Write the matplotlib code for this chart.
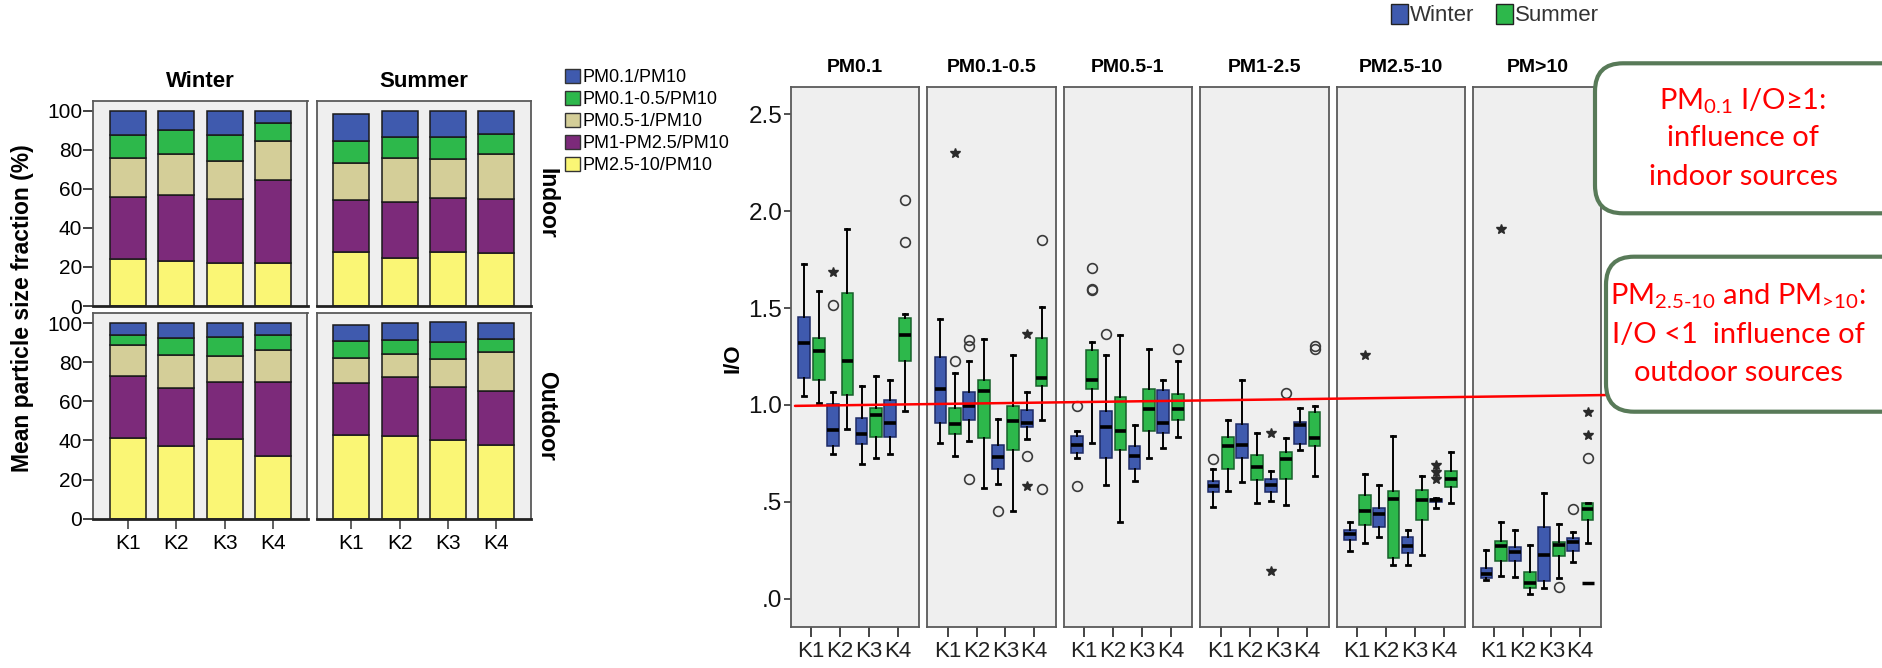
import numpy as np
import matplotlib
matplotlib.use("Agg")
import matplotlib.pyplot as plt
from matplotlib import font_manager
from matplotlib.patches import Patch, FancyBboxPatch, ConnectionPatch
from matplotlib.transforms import IdentityTransform

W, H = 1883, 668

_names = {f.name for f in font_manager.fontManager.ttflist}
ARIAL = "Liberation Sans"
NARROW = "Liberation Sans Narrow" if "Liberation Sans Narrow" in _names else "Liberation Sans"
CAL = "Lato" if "Lato" in _names else "DejaVu Sans"

plt.rcParams["font.family"] = [ARIAL, "DejaVu Sans"]
plt.rcParams["mathtext.fontset"] = "custom"
plt.rcParams["mathtext.rm"] = CAL
plt.rcParams["mathtext.it"] = CAL
plt.rcParams["mathtext.bf"] = CAL

# ---------------------------------------------------------------- data
seasons = ["Winter", "Summer"]
locations = ["Indoor", "Outdoor"]
sites = ["K1", "K2", "K3", "K4"]
fraction_labels = ["PM0.1/PM10", "PM0.1-0.5/PM10", "PM0.5-1/PM10",
                   "PM1-PM2.5/PM10", "PM2.5-10/PM10"]

# mean fraction (%) : [location][season][site]
frac_pm25_10 = [[[23.9, 23.0, 22.2, 22.2], [27.8, 24.4, 27.5, 27.3]],
                [[41.5, 37.3, 41.0, 32.3], [42.9, 42.4, 40.3, 37.9]]]
frac_pm1_25 = [[[31.9, 33.8, 32.7, 42.5], [26.3, 29.0, 27.8, 27.5]],
               [[31.3, 29.5, 28.9, 37.8], [26.7, 29.9, 27.2, 27.2]]]
frac_pm05_1 = [[[19.8, 21.0, 19.5, 19.9], [19.1, 22.2, 20.1, 23.0]],
               [[15.9, 16.8, 13.2, 16.2], [12.5, 11.8, 14.0, 20.0]]]
frac_pm01_05 = [[[11.8, 12.5, 13.1, 9.1], [11.4, 10.7, 11.3, 10.3]],
                [[5.5, 8.7, 9.7, 7.9], [8.8, 7.5, 8.9, 7.0]]]
frac_pm01 = [[[12.6, 9.7, 12.5, 6.3], [13.5, 13.7, 13.3, 11.9]],
             [[5.8, 7.7, 7.2, 5.8], [8.2, 8.4, 10.3, 7.9]]]

# I/O box plot statistics : [size class][site]
size_classes = ["PM0.1", "PM0.1-0.5", "PM0.5-1", "PM1-2.5", "PM2.5-10", "PM>10"]
io_ticks = [0.0, 0.5, 1.0, 1.5, 2.0, 2.5]
io_tick_labels = [".0", ".5", "1.0", "1.5", "2.0", "2.5"]

winter_whislo = [[1.047, 0.747, 0.694, 0.747], [0.806, 0.816, 0.594, 0.824],
                 [0.727, 0.586, 0.608, 0.778], [0.473, 0.604, 0.506, 0.765],
                 [0.245, 0.316, 0.173, 0.469], [0.098, 0.112, 0.053, 0.190]]
winter_q1 = [[1.137, 0.788, 0.796, 0.835], [0.908, 0.924, 0.669, 0.884],
             [0.753, 0.724, 0.671, 0.857], [0.551, 0.727, 0.549, 0.798],
             [0.302, 0.371, 0.237, 0.500], [0.108, 0.196, 0.092, 0.247]]
winter_med = [[1.318, 0.871, 0.849, 0.908], [1.080, 0.994, 0.729, 0.908],
              [0.794, 0.884, 0.737, 0.908], [0.580, 0.792, 0.588, 0.898],
              [0.333, 0.435, 0.271, 0.508], [0.129, 0.239, 0.224, 0.292]]
winter_q3 = [[1.453, 1.006, 0.931, 1.027], [1.247, 1.067, 0.794, 0.973],
             [0.841, 0.971, 0.786, 1.076], [0.606, 0.904, 0.616, 0.914],
             [0.353, 0.469, 0.318, 0.516], [0.159, 0.267, 0.369, 0.312]]
winter_whishi = [[1.729, 1.067, 1.096, 1.129], [1.445, 1.229, 0.929, 1.067],
                 [0.867, 1.257, 0.898, 1.129], [0.667, 1.129, 0.659, 0.986],
                 [0.394, 0.588, 0.353, 0.520], [0.251, 0.353, 0.547, 0.343]]

summer_whislo = [[1.008, 0.876, 0.727, 0.969], [0.737, 0.573, 0.455, 0.924],
                 [0.806, 0.394, 0.727, 0.837], [0.555, 0.496, 0.486, 0.633],
                 [0.286, 0.173, 0.224, 0.496], [0.118, 0.022, 0.108, 0.286]]
summer_q1 = [[1.131, 1.053, 0.835, 1.227], [0.851, 0.829, 0.765, 1.096],
             [1.082, 0.769, 0.865, 0.924], [0.667, 0.610, 0.616, 0.786],
             [0.380, 0.210, 0.404, 0.578], [0.194, 0.053, 0.218, 0.404]]
summer_med = [[1.280, 1.229, 0.949, 1.361], [0.900, 1.071, 0.916, 1.139],
              [1.129, 0.867, 0.978, 0.978], [0.788, 0.680, 0.720, 0.827],
              [0.455, 0.516, 0.510, 0.618], [0.271, 0.082, 0.276, 0.465]]
summer_q3 = [[1.347, 1.578, 0.986, 1.447], [0.986, 1.129, 0.992, 1.347],
             [1.282, 1.039, 1.084, 1.057], [0.837, 0.741, 0.755, 0.963],
             [0.533, 0.557, 0.563, 0.659], [0.296, 0.137, 0.292, 0.496]]
summer_whishi = [[1.590, 1.908, 1.149, 1.469], [1.165, 1.339, 1.259, 1.506],
                 [1.327, 1.359, 1.288, 1.227], [0.924, 0.855, 0.827, 0.996],
                 [0.645, 0.839, 0.635, 0.757], [0.394, 0.276, 0.384, 0.496]]

# outliers: (size class index, site index, season index, I/O value, kind)
outliers = [
    (0, 1, 0, 1.688, "*"), (0, 1, 0, 1.518, "o"), (0, 3, 1, 2.059, "o"), (0, 3, 1, 1.839, "o"),
    (1, 0, 1, 2.298, "*"), (1, 0, 1, 1.227, "o"), (1, 1, 0, 1.337, "o"), (1, 1, 0, 1.302, "o"),
    (1, 1, 0, 0.616, "o"), (1, 2, 0, 0.455, "o"), (1, 3, 0, 1.365, "*"), (1, 3, 0, 0.737, "o"),
    (1, 3, 0, 0.584, "*"), (1, 3, 1, 1.849, "o"), (1, 3, 1, 0.565, "o"),
    (2, 0, 0, 0.994, "o"), (2, 0, 0, 0.584, "o"), (2, 0, 1, 1.708, "o"), (2, 0, 1, 1.594, "o"),
    (2, 0, 1, 1.600, "o"), (2, 1, 0, 1.367, "o"), (2, 3, 1, 1.288, "o"),
    (3, 0, 0, 0.720, "o"), (3, 2, 0, 0.855, "*"), (3, 2, 0, 0.143, "*"), (3, 2, 1, 1.061, "o"),
    (3, 3, 1, 1.302, "o"), (3, 3, 1, 1.290, "o"),
    (4, 0, 1, 1.257, "*"), (4, 3, 0, 0.690, "*"), (4, 3, 0, 0.655, "*"), (4, 3, 0, 0.618, "*"),
    (5, 0, 1, 1.908, "*"), (5, 2, 1, 0.063, "o"), (5, 3, 0, 0.465, "o"), (5, 3, 1, 0.965, "*"),
    (5, 3, 1, 0.847, "*"), (5, 3, 1, 0.727, "o"), (5, 3, 1, 0.082, "_"),
]

# reference line I/O values (left end, right end)
ref_io_start = 0.995
ref_io_end = 1.051

# ---------------------------------------------------------------- style
BLUE = "#3F5AAE"
GREEN = "#2DB84B"
TAN = "#D4CE98"
PURPLE = "#7C2A7A"
YELLOW = "#FAF675"
PANEL_BG = "#EFEFEF"
SPINE = "#5A5A5A"
BLUE_EDGE = "#1E2B66"
GREEN_EDGE = "#17602A"

fig = plt.figure(figsize=(W / 100, H / 100), dpi=100)


def px_rect(x0, y0, x1, y1):
    return [x0 / W, 1 - y1 / H, (x1 - x0) / W, (y1 - y0) / H]


# ---------------------------------------------------------------- left: stacked bars
LEFT_X0 = [93.3, 316.7]
LEFT_W = 214.2
ROW_Y0 = [100.7, 313.3]
ROW_H = 205.3
bar_x = np.arange(len(sites))
stack = [frac_pm25_10, frac_pm1_25, frac_pm05_1, frac_pm01_05, frac_pm01]
stack_colors = [YELLOW, PURPLE, TAN, GREEN, BLUE]

for li, loc in enumerate(locations):
    for si, season in enumerate(seasons):
        ax = fig.add_axes(px_rect(LEFT_X0[si], ROW_Y0[li], LEFT_X0[si] + LEFT_W, ROW_Y0[li] + ROW_H))
        ax.set_facecolor(PANEL_BG)
        bottom = np.zeros(len(sites))
        for arr, col in zip(stack, stack_colors):
            vals = np.array(arr[li][si])
            ax.bar(bar_x, vals, bottom=bottom, width=0.747, color=col,
                   edgecolor="#1a1a1a", linewidth=1.1, zorder=2)
            bottom += vals
        ax.set_xlim(-0.72, 3.718)
        ax.set_ylim(0, 105.1)
        for sp in ax.spines.values():
            sp.set_color(SPINE)
            sp.set_linewidth(1.3)
        ax.spines["bottom"].set_color("#222222")
        ax.spines["bottom"].set_linewidth(2.0)
        if si == 0:
            ax.set_yticks(np.arange(0, 101, 20))
            ax.tick_params(axis="y", length=7, width=1.2, direction="out",
                           labelsize=15, pad=1, color="#222222")
        else:
            ax.set_yticks([])
        if li == 1:
            ax.set_xticks(bar_x, sites)
            ax.tick_params(axis="x", length=7, width=1.2, direction="out",
                           labelsize=15, pad=4, color="#444444")
        else:
            ax.set_xticks([])
        if li == 0:
            ax.text(0.5, 1 + 19 / ROW_H, season, transform=ax.transAxes, ha="center",
                    va="center", fontsize=16, fontweight="bold")
        if si == 1:
            ax.text(1 + 16 / LEFT_W, 0.5, loc, transform=ax.transAxes, ha="center",
                    va="center", rotation=-90, fontsize=16.5, fontweight="bold")

fig.text(23 / W, 1 - 308 / H, "Mean particle size fraction (%)", rotation=90,
         ha="center", va="center", fontsize=16.5, fontweight="bold")

leg_handles = [Patch(facecolor=c, edgecolor="#333333", linewidth=1.0)
               for c in [BLUE, GREEN, TAN, PURPLE, YELLOW]]
fig.legend(leg_handles, fraction_labels, loc="upper left",
           bbox_to_anchor=(565 / W, 1 - 69 / H), frameon=False, fontsize=13,
           handlelength=0.83, handleheight=0.83, handletextpad=0.15,
           labelspacing=0.26, borderpad=0, borderaxespad=0)

# ---------------------------------------------------------------- right: box plots
R_X0 = 790.7
R_PITCH = 136.5
R_W = 128.3
R_TOP = 86.7
R_BOT = 627.2
R_XLIM = (-0.715, 3.74)
R_YLIM = (-0.147, 2.642)
OFFSET = 0.255
BOX_W = 0.41

season_stats = [
    (winter_whislo, winter_q1, winter_med, winter_q3, winter_whishi, BLUE, BLUE_EDGE, -OFFSET),
    (summer_whislo, summer_q1, summer_med, summer_q3, summer_whishi, GREEN, GREEN_EDGE, +OFFSET),
]

right_axes = []
for p, name in enumerate(size_classes):
    x0 = R_X0 + p * R_PITCH
    ax = fig.add_axes(px_rect(x0, R_TOP, x0 + R_W, R_BOT))
    right_axes.append(ax)
    ax.set_facecolor(PANEL_BG)
    for (lo, q1, med, q3, hi, col, edge, off) in season_stats:
        stats = [dict(whislo=lo[p][k], q1=q1[p][k], med=med[p][k], q3=q3[p][k],
                      whishi=hi[p][k], fliers=[]) for k in range(len(sites))]
        ax.bxp(stats, positions=[k + off for k in range(len(sites))], widths=BOX_W,
               patch_artist=True, showfliers=False, manage_ticks=False,
               boxprops=dict(facecolor=col, edgecolor=edge, linewidth=1.1),
               medianprops=dict(color="black", linewidth=2.6, solid_capstyle="butt"),
               whiskerprops=dict(color="black", linewidth=1.4),
               capprops=dict(color="black", linewidth=2.0),
               capwidths=0.14)
    for (ci, k, s, v, kind) in outliers:
        if ci != p:
            continue
        xpos = k + (season_stats[s][7])
        if kind == "o":
            ax.plot(xpos, v, marker="o", ms=7, mfc="none", mec="#3a3a3a", mew=1.2,
                    ls="none", zorder=4)
        elif kind == "*":
            ax.plot(xpos, v, marker="*", ms=7.5, color="#2a2a2a", ls="none", zorder=4)
        else:
            ax.plot(xpos, v, marker="_", ms=9, mew=2.5, color="black", ls="none", zorder=4)
    ax.set_xlim(*R_XLIM)
    ax.set_ylim(*R_YLIM)
    for sp in ax.spines.values():
        sp.set_color(SPINE)
        sp.set_linewidth(1.3)
    ax.set_xticks(range(len(sites)))
    ax.set_xticklabels(sites, fontfamily=NARROW, fontsize=16, color="#222222")
    ax.tick_params(axis="x", length=7, width=1.4, direction="out", pad=3, color="#444444")
    if p == 0:
        ax.set_yticks(io_ticks)
        ax.set_yticklabels(io_tick_labels, fontfamily=NARROW, fontsize=17.5, color="#111111")
        ax.tick_params(axis="y", length=5, width=1.2, direction="out", pad=1, color="#333333")
    else:
        ax.set_yticks([])
    ax.text(0.5, 1 + 19 / (R_BOT - R_TOP), name, transform=ax.transAxes, ha="center",
            va="center", fontsize=14, fontweight="bold", fontfamily=NARROW)

fig.text(733 / W, 1 - 358 / H, "I/O", rotation=90, ha="center", va="center",
         fontsize=16, fontweight="bold")

fig.legend([Patch(facecolor=BLUE, edgecolor="#222222", linewidth=1.0),
            Patch(facecolor=GREEN, edgecolor="#222222", linewidth=1.0)],
           seasons, loc="center left", bbox_to_anchor=(1391 / W, 1 - 15 / H), ncol=2,
           frameon=False, prop=dict(family=NARROW, size=16), labelcolor="#333333",
           handlelength=0.75, handleheight=1.0, handletextpad=0.1, columnspacing=1.0,
           borderpad=0, borderaxespad=0)

# reference line (I/O = 1 guide), drawn across all panels into the annotation
ref_x_start = -0.566
ref_x_end = 3.93
con = ConnectionPatch(xyA=(ref_x_start, ref_io_start), coordsA=right_axes[0].transData,
                      xyB=(ref_x_end, ref_io_end), coordsB=right_axes[-1].transData,
                      color="#FF0000", linewidth=1.8, zorder=5)
fig.add_artist(con)

# ---------------------------------------------------------------- annotations
BOX_EDGE = "#587A58"


def note_box(x0, y0, x1, y1):
    patch = FancyBboxPatch((x0, H - y1), x1 - x0, y1 - y0,
                           boxstyle="round,pad=0,rounding_size=28",
                           transform=IdentityTransform(), facecolor="white",
                           edgecolor=BOX_EDGE, linewidth=3.0, zorder=6, clip_on=False)
    fig.add_artist(patch)


note_box(1595, 63.3, 1915, 213.3)
note_box(1606, 256.7, 1915, 411.7)

note_font = dict(family=[CAL, "DejaVu Sans"], size=21)
note_lines = [
    (1743, 101.7, r"PM$_{\mathregular{0.1}}$ I/O≥1:"),
    (1743, 138.0, "influence of"),
    (1743, 176.7, "indoor sources"),
    (1738, 296.7, r"PM$_{\text{2.5-10}}$ and PM$_{\text{>10}}$:"),
    (1738, 335.0, "I/O <1  influence of"),
    (1738, 373.3, "outdoor sources"),
]
for x, y, s in note_lines:
    fig.text(x / W, 1 - y / H, s, ha="center", va="center", color="#FF0000",
             fontproperties=font_manager.FontProperties(**note_font), zorder=7)

fig.savefig("out.png", dpi=100)
